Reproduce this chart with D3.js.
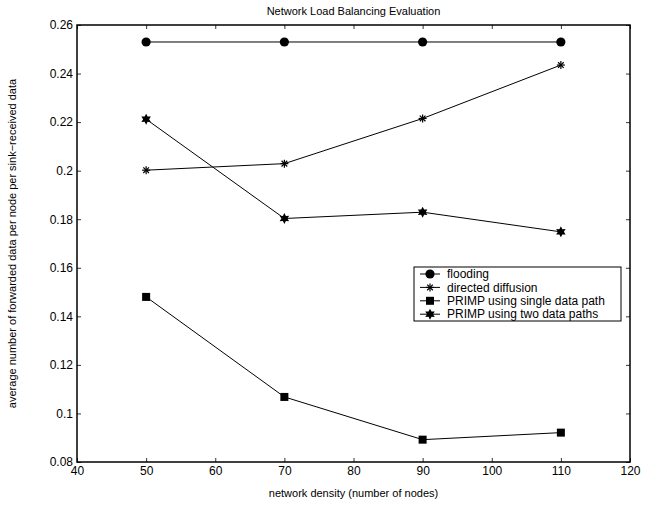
<!DOCTYPE html>
<html>
<head>
<meta charset="utf-8">
<script src="https://cdn.jsdelivr.net/npm/d3@7"></script>
<style>
  body { margin: 0; background: #fff; }
  svg text { font-family: "Liberation Sans", Arial, sans-serif; fill: #000; }
</style>
</head>
<body>
<svg id="chart" width="658" height="506"></svg>
<script>
// valores
var densidades = [50, 70, 90, 110];
var flooding = [0.253, 0.253, 0.253, 0.253];
var directedDiffusion = [0.2002, 0.2029, 0.2215, 0.2435];
var primpSingle = [0.148, 0.1068, 0.0892, 0.0921];
var primpTwo = [0.2212, 0.1803, 0.1829, 0.1748];
var xTicks = [40, 50, 60, 70, 80, 90, 100, 110, 120];
var yTicks = [0.08, 0.1, 0.12, 0.14, 0.16, 0.18, 0.2, 0.22, 0.24, 0.26];
var nomes = ["flooding", "directed diffusion", "PRIMP using single data path", "PRIMP using two data paths"];

var margin = {top: 25, right: 28, bottom: 44, left: 77},
    width = 658 - margin.left - margin.right,
    height = 506 - margin.top - margin.bottom;

var svg = d3.select("#chart");
var g = svg.append("g").attr("transform", "translate(" + margin.left + "," + margin.top + ")");

var x = d3.scaleLinear().domain([40, 120]).range([0, width]);
var y = d3.scaleLinear().domain([0.08, 0.26]).range([height, 0]);

function fmt(d) { return String(+d.toFixed(2)); }

// eixos com ticks para dentro
g.append("g").attr("transform", "translate(0," + height + ")")
  .call(d3.axisBottom(x).tickValues(xTicks).tickSize(-4).tickPadding(4).tickFormat(fmt));
g.append("g")
  .call(d3.axisLeft(y).tickValues(yTicks).tickSize(-4).tickPadding(4).tickFormat(fmt));
g.append("g")
  .call(d3.axisTop(x).tickValues(xTicks).tickSize(-4).tickFormat(""));
g.append("g").attr("transform", "translate(" + width + ",0)")
  .call(d3.axisRight(y).tickValues(yTicks).tickSize(-4).tickFormat(""));

g.selectAll(".domain").remove();
g.selectAll(".tick line").attr("stroke", "#000").attr("stroke-width", 0.8);
g.selectAll(".tick text").style("font-size", "12px");

g.append("rect").attr("width", width).attr("height", height)
  .attr("fill", "none").attr("stroke", "#000").attr("stroke-width", 1.5);

// marcadores
var estrela6 = d3.symbol().type(d3.symbolStar);
function desenharMarcador(sel, tipo) {
  if (tipo == 0) {
    sel.append("circle").attr("r", 4.6).attr("fill", "#000");
  } else if (tipo == 1) {
    [0, 45, 90, 135].forEach(function(a) {
      sel.append("line").attr("x1", -4).attr("x2", 4).attr("y1", 0).attr("y2", 0)
        .attr("transform", "rotate(" + a + ")").attr("stroke", "#000").attr("stroke-width", 1.2);
    });
  } else if (tipo == 2) {
    sel.append("rect").attr("x", -4).attr("y", -4).attr("width", 8).attr("height", 8).attr("fill", "#000");
  } else {
    // estrela de seis pontas
    var pts = [];
    for (var i = 0; i < 12; i++) {
      var r = i % 2 == 0 ? 5.5 : 3;
      var a = Math.PI / 6 * i - Math.PI / 2;
      pts.push([r * Math.cos(a), r * Math.sin(a)]);
    }
    sel.append("path").attr("d", "M" + pts.join("L") + "Z").attr("fill", "#000");
  }
}

var series = [flooding, directedDiffusion, primpSingle, primpTwo];
var linha = d3.line()
  .x(function(d, i) { return x(densidades[i]); })
  .y(function(d) { return y(d); });

series.forEach(function(s, k) {
  g.append("path").datum(s).attr("d", linha)
    .attr("fill", "none").attr("stroke", "#000").attr("stroke-width", 1);
  s.forEach(function(v, i) {
    var m = g.append("g").attr("transform", "translate(" + x(densidades[i]) + "," + y(v) + ")");
    desenharMarcador(m, k);
  });
});

// legenda
var leg = g.append("g").attr("transform", "translate(" + (414 - margin.left) + "," + (267 - margin.top) + ")");
leg.append("rect").attr("width", 207).attr("height", 54)
  .attr("fill", "#fff").attr("stroke", "#000").attr("stroke-width", 1);
nomes.forEach(function(n, k) {
  var yy = 7 + k * 13.4;
  leg.append("line").attr("x1", 6).attr("x2", 26).attr("y1", yy).attr("y2", yy)
    .attr("stroke", "#000").attr("stroke-width", 1);
  var m = leg.append("g").attr("transform", "translate(16," + yy + ")");
  desenharMarcador(m, k);
  leg.append("text").attr("x", 33).attr("y", yy).attr("dy", "0.35em")
    .style("font-size", "12px").text(n);
});

// titulos
svg.append("text").attr("x", margin.left + width / 2).attr("y", 15)
  .attr("text-anchor", "middle").style("font-size", "11px").text("Network Load Balancing Evaluation");
svg.append("text").attr("x", margin.left + width / 2).attr("y", 497)
  .attr("text-anchor", "middle").style("font-size", "11px").text("network density (number of nodes)");
svg.append("text").attr("transform", "translate(16," + (margin.top + height / 2) + ") rotate(-90)")
  .attr("text-anchor", "middle").style("font-size", "11px")
  .text("average number of forwarded data per node per sink\u2212received data");
</script>
</body>
</html>
